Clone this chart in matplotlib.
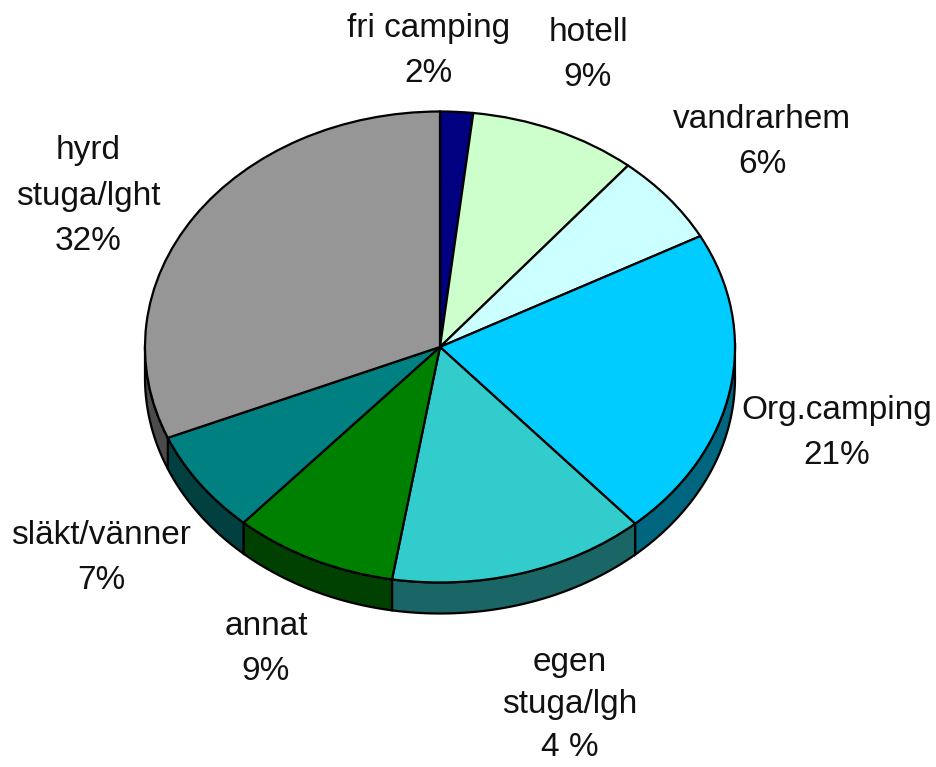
import matplotlib
matplotlib.use("Agg")
import matplotlib.pyplot as plt
import numpy as np

plt.rcParams["font.family"] = ["Liberation Sans", "DejaVu Sans"]

# shares as drawn, the printed labels do not all agree with the slices
slices = [1.8, 9.2, 6.2, 21.3, 14.1, 9, 7.1, 31.3]
colors = ["#000080", "#ccffcc", "#ccffff", "#00ccff", "#33cccc", "#008000", "#008080", "#969696"]
side_colors = ["#000040", "#668066", "#668080", "#006680", "#1a6666", "#004000", "#004040", "#4b4b4b"]
labels = ["fri camping\n2%", "hotell\n9%", "vandrarhem\n6%", "Org.camping\n21%",
          "egen\nstuga/lgh\n4 %", "annat\n9%", "släkt/vänner\n7%", "hyrd\nstuga/lght\n32%"]

W, H = 936, 767
cx, cy, rx, ry, depth = 440, 347, 295, 235.5, 31

fig = plt.figure(figsize=(W / 100, H / 100), dpi=100, facecolor="white")
ax = fig.add_axes([0, 0, 1, 1])

# side wall, one band per slice
edges = 90 - np.cumsum([0] + slices) / np.sum(slices) * 360
d = depth / ry
for i in range(len(slices)):
    a1, a0 = edges[i], edges[i + 1]
    t = np.radians(np.linspace(a0, a1, 100))
    x, y = np.cos(t), np.sin(t)
    visible = y <= 0.02
    if not visible.any():
        continue
    x, y = x[visible], y[visible]
    ax.fill(np.r_[x, x[::-1]], np.r_[y, y[::-1] - d], fc=side_colors[i], ec="black", lw=1.6, zorder=1)

ax.pie(slices, colors=colors, startangle=90, counterclock=False, radius=1,
       wedgeprops={"edgecolor": "black", "linewidth": 1.6, "zorder": 2})

ax.set_aspect("auto")
ax.set_xlim(-cx / rx, (W - cx) / rx)
ax.set_ylim((cy - H) / ry, cy / ry)

label_xy = [(429, 51), (588, 55), (762, 142), (837, 433), (570, 705), (266, 649), (101, 558), (88, 196)]
for text, (px, py) in zip(labels, label_xy):
    # the egen label sits right on the bottom edge, so it gets tighter lines
    spacing = 1.5 if text.startswith("egen") else 1.6
    fig.text(px / W, 1 - py / H, text, ha="center", va="center", fontsize=24,
             linespacing=spacing, color="#111111")

fig.savefig("out.png", dpi=100)
